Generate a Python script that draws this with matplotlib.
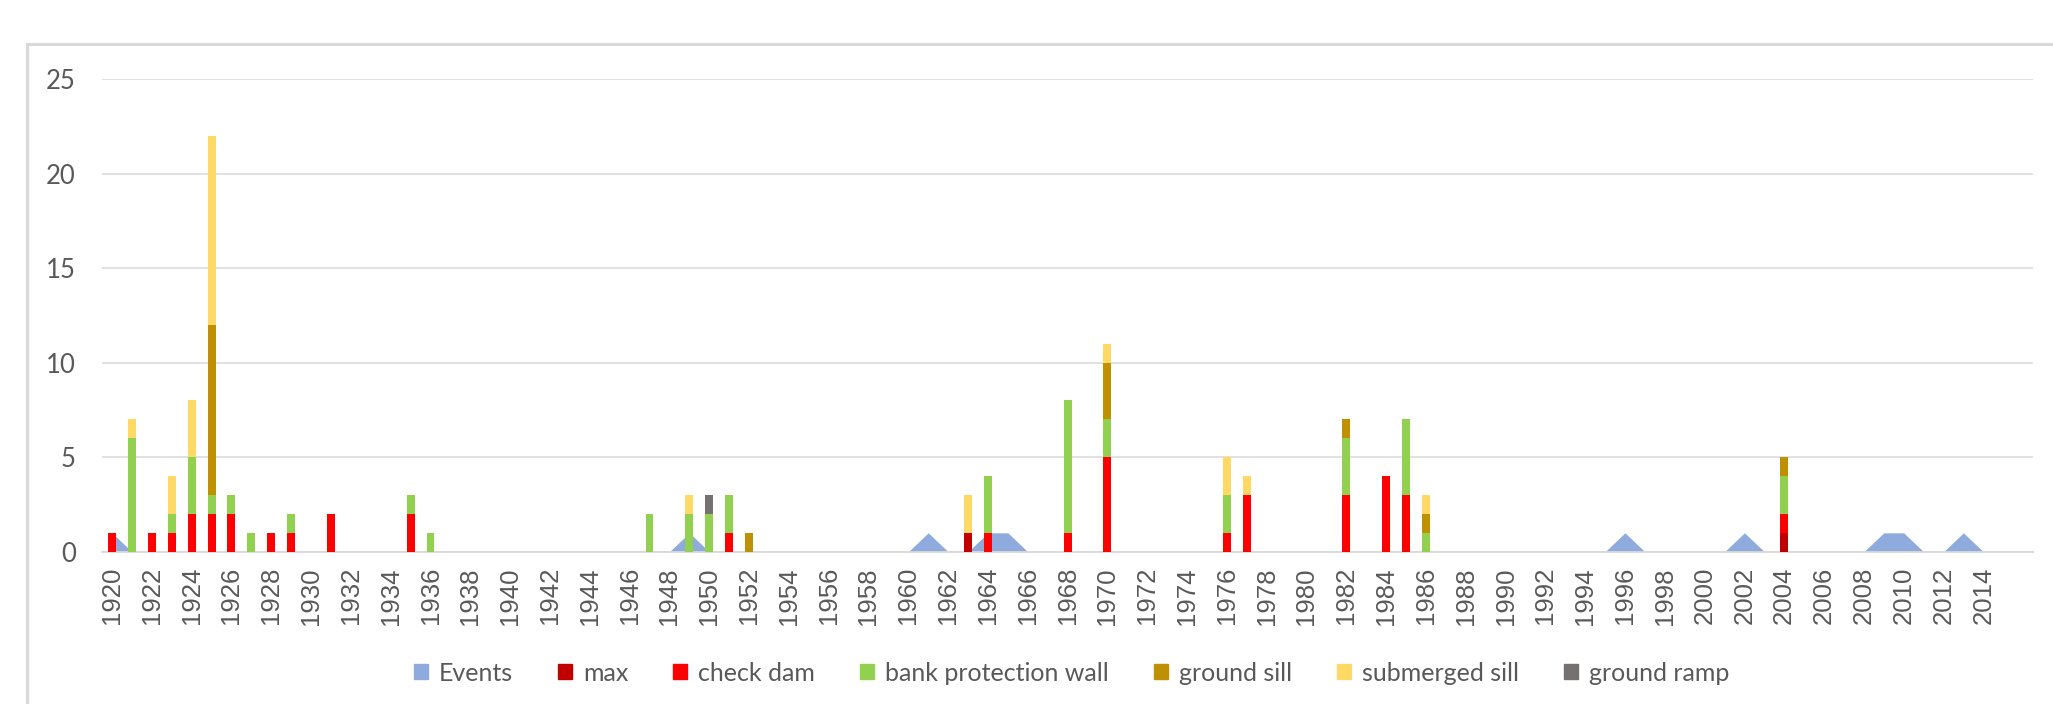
import numpy as np
import pandas as pd
import matplotlib.pyplot as plt
from matplotlib.patches import Rectangle, Patch


years = list(range(1920, 2017))

# yearly counts per structure type (years not listed are 0)
events = {1920: 1, 1949: 1, 1961: 1, 1964: 1, 1965: 1, 1996: 1, 2002: 1,
          2009: 1, 2010: 1, 2013: 1}
max_ = {1963: 1, 2004: 1}
check_dam = {1920: 1, 1922: 1, 1923: 1, 1924: 2, 1925: 2, 1926: 2, 1928: 1,
             1929: 1, 1931: 2, 1935: 2, 1951: 1, 1964: 1, 1968: 1, 1970: 5,
             1976: 1, 1977: 3, 1982: 3, 1984: 4, 1985: 3, 2004: 1}
bank_wall = {1921: 6, 1923: 1, 1924: 3, 1925: 1, 1926: 1, 1927: 1, 1929: 1,
             1935: 1, 1936: 1, 1947: 2, 1949: 2, 1950: 2, 1951: 2, 1964: 3,
             1968: 7, 1970: 2, 1976: 2, 1982: 3, 1985: 4, 1986: 1, 2004: 2}
ground_sill = {1925: 9, 1952: 1, 1970: 3, 1982: 1, 1986: 1, 2004: 1}
submerged_sill = {1921: 1, 1923: 2, 1924: 3, 1925: 10, 1949: 1, 1963: 2,
                  1970: 1, 1976: 2, 1977: 1, 1986: 1}
ground_ramp = {1950: 1}

df = pd.DataFrame({
    "max": max_,
    "check dam": check_dam,
    "bank protection wall": bank_wall,
    "ground sill": ground_sill,
    "submerged sill": submerged_sill,
    "ground ramp": ground_ramp,
}).reindex(years).fillna(0)
ev = pd.Series(events).reindex(years).fillna(0)

colors = {
    "max": "#C00000",
    "check dam": "#FF0000",
    "bank protection wall": "#92D050",
    "ground sill": "#BF9000",
    "submerged sill": "#FFD966",
    "ground ramp": "#767171",
}
ev_color = "#8FAADC"
grid_c = "#D9D9D9"
text_c = "#595959"

fig = plt.figure(figsize=(20.53, 7.04), dpi=100)
ax = fig.add_axes([0.0497, 0.2163, 0.9406, 0.6714])

# chart border (runs off the right/bottom edge)
fig.patches.append(Rectangle((27 / 2053, -0.1), 1.2, 1.1 - 44 / 704,
                             transform=fig.transFigure, fill=False,
                             edgecolor=grid_c, linewidth=2.3, zorder=0))

ax.fill_between(years, ev.values, 0, color=ev_color, linewidth=0, zorder=2)

bottom = np.zeros(len(years))
for name in df.columns:
    vals = df[name].values
    ax.bar(years, vals, width=0.4, bottom=bottom, color=colors[name],
           linewidth=0, zorder=3)
    bottom += vals

ax.set_xlim(1919.5, 2016.5)
ax.set_ylim(0, 25)
ax.set_yticks(range(0, 26, 5))
ax.yaxis.grid(True, color=grid_c, linewidth=1.1)
ax.set_axisbelow(True)

# every other year is labelled, up to 2014
even = [y for y in years if y % 2 == 0 and y <= 2014]
ax.set_xticks(even)
ax.set_xticklabels([str(y) for y in even], rotation=90, fontsize=18.5,
                   family="Liberation Sans", color=text_c)
for lab in ax.get_yticklabels():
    lab.set_family("Lato")
    lab.set_fontsize(18.5)
    lab.set_color(text_c)
ax.tick_params(axis="x", length=0, pad=11)
ax.tick_params(axis="y", length=0, pad=19)

for s in ["top", "right", "left"]:
    ax.spines[s].set_visible(False)
ax.spines["bottom"].set_color(grid_c)
ax.spines["bottom"].set_linewidth(1.3)

handles = [Patch(color=ev_color, label="Events")] + \
    [Patch(color=colors[n], label=n) for n in df.columns]
fig.legend(handles=handles, loc="center", bbox_to_anchor=(0.522, 0.044),
           ncol=7, frameon=False, prop={"family": "Lato", "size": 18},
           labelcolor=text_c, handlelength=0.55, handleheight=0.55,
           handletextpad=0.45, columnspacing=1.8)

fig.savefig("out.png", dpi=100)
